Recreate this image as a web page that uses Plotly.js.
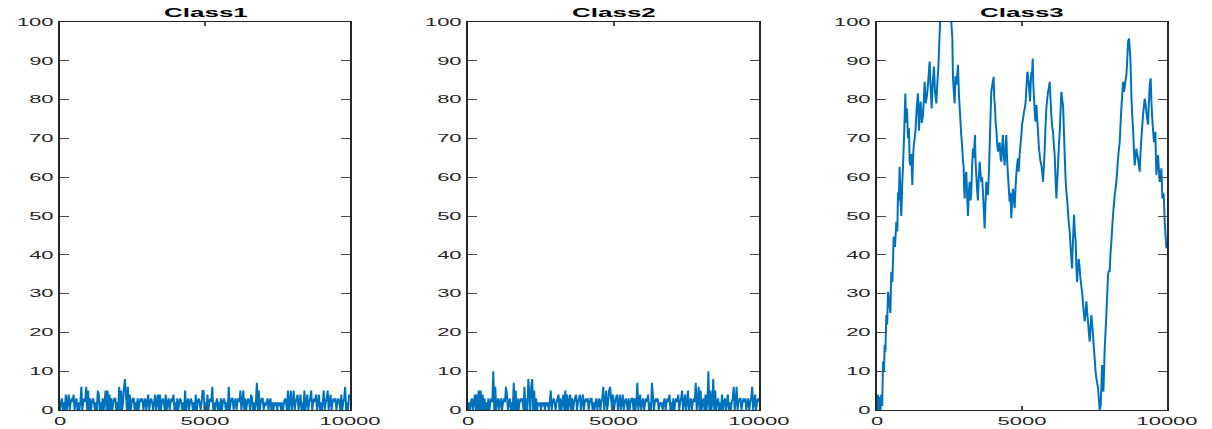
<!DOCTYPE html>
<html>
<head>
<meta charset="utf-8">
<script src="https://cdn.plot.ly/plotly-3.0.1.min.js"></script>
<style>
html,body{margin:0;padding:0;background:#fff;overflow:hidden;}
#wrap{width:1212px;height:429px;overflow:hidden;}
/* the reference figure is a 2x horizontally stretched render */
#chart{width:606px;height:429px;transform:scaleX(2);transform-origin:0 0;}
</style>
</head>
<body>
<div id="wrap"><div id="chart"></div></div>
<script>
// ---- data ----
var panelTitles = ['Class1', 'Class2', 'Class3'];
var xTickVals = [0, 5000, 10000];
var xTickText = ['0', '5000', '10000'];
var yTickVals = [0, 10, 20, 30, 40, 50, 60, 70, 80, 90, 100];
var sampleCount = 10000;

var class1 = [
  0,2,3,0,2,0,4,0,2,4,
  0,2,3,2,4,0,2,3,0,2,
  0,2,6,0,2,3,2,6,0,5,
  0,3,0,2,3,2,0,2,0,5,
  4,0,2,0,3,0,2,5,0,5,
  0,4,0,3,0,2,3,3,0,2,
  0,6,0,5,0,2,6,8,4,0,
  6,0,4,0,2,3,3,0,2,0,
  3,0,2,3,2,3,0,2,3,0,
  2,4,0,2,3,2,0,2,4,0,
  2,4,0,4,0,2,3,2,0,4,
  0,2,3,0,2,3,2,4,0,2,
  0,3,0,2,3,2,0,2,0,5,
  0,2,3,0,2,3,2,0,2,0,
  4,0,2,3,2,0,2,5,5,0,
  2,0,4,0,2,3,2,6,0,2,
  0,2,3,0,2,0,3,0,2,3,
  2,0,2,0,6,0,2,3,3,0,
  2,3,0,2,3,2,5,0,2,5,
  0,3,0,2,3,2,0,4,3,0,
  2,0,2,7,0,5,0,2,3,3,
  0,2,1,2,3,0,2,3,0,2,
  0,2,1,2,0,2,1,2,0,2,
  0,2,3,2,0,5,0,2,5,0,
  2,5,0,2,3,4,0,2,4,0,
  2,0,5,0,2,4,0,2,3,5,
  0,2,3,2,4,0,2,4,0,2,
  0,2,5,0,2,3,5,0,2,4,
  0,2,3,2,3,0,2,3,2,0,
  4,0,2,3,6,0,2,0,4,3
];

var class2 = [
  0,2,0,2,3,0,2,4,0,4,
  0,5,0,5,0,4,0,3,0,2,
  0,3,0,2,3,2,10,0,6,0,
  2,3,0,2,3,0,2,3,2,6,
  4,0,2,3,0,2,0,7,0,5,
  0,3,0,2,3,2,3,0,6,0,
  3,0,8,4,0,6,8,0,5,0,
  3,0,2,1,2,0,2,1,2,0,
  2,1,2,0,2,5,0,2,3,2,
  0,2,3,4,0,3,0,2,4,0,
  5,0,4,0,2,4,0,3,0,2,
  3,4,0,2,3,4,0,2,4,0,
  2,3,2,3,0,2,3,3,0,2,
  0,2,3,0,2,3,0,2,3,6,
  0,2,5,0,2,5,6,3,0,4,
  0,2,3,4,0,2,4,0,2,4,
  0,2,3,2,0,3,0,2,3,3,
  0,3,0,2,7,0,2,4,0,2,
  3,0,2,3,2,4,0,2,0,7,
  4,0,2,3,2,3,0,2,1,2,
  0,2,3,0,2,3,2,4,0,2,
  0,3,0,2,3,2,4,0,2,3,
  5,0,2,4,0,2,5,0,2,3,
  0,2,3,2,7,0,2,6,0,5,
  0,2,3,0,4,0,2,10,0,5,
  0,2,8,0,5,0,2,3,0,2,
  0,4,0,2,3,0,2,4,0,2,
  0,2,3,6,0,2,6,0,2,3,
  3,0,2,3,2,3,0,2,3,0,
  2,3,6,0,2,4,0,2,3,2
];

var class3Steps = [
  0,30,60,90,120,150,180,207,240,264,290,322,350,380,420,460,494,530,575,620,
  666,700,724,750,781,810,839,870,896,940,977,1000,1034,1070,1103,1125,1149,1180,1218,1240,
  1264,1300,1333,1370,1413,1448,1475,1505,1545,1586,1615,1643,1680,1723,1770,1815,1850,1884,1920,1965,
  2000,2045,2080,2114,2150,2183,2250,2400,2500,2562,2597,2620,2650,2677,2705,2735,2765,2792,2827,2850,
  2873,2905,2941,2965,2987,3000,3022,3050,3079,3110,3137,3165,3194,3225,3252,3280,3309,3340,3378,3400,
  3424,3450,3481,3510,3539,3570,3596,3625,3654,3680,3711,3740,3769,3800,3826,3861,3900,3941,3980,4021,
  4045,4067,4090,4113,4140,4171,4200,4228,4260,4286,4315,4343,4370,4401,4430,4458,4490,4516,4545,4573,
  4600,4631,4660,4688,4715,4746,4775,4803,4830,4861,4886,4920,4955,4980,5001,5035,5070,5100,5127,5160,
  5185,5210,5231,5255,5277,5300,5323,5345,5369,5390,5415,5440,5461,5480,5495,5525,5553,5580,5610,5640,
  5668,5700,5725,5755,5783,5810,5840,5870,5897,5925,5955,5985,6012,6040,6070,6100,6127,6155,6185,6215,
  6242,6270,6300,6330,6357,6385,6415,6445,6472,6500,6530,6560,6587,6615,6645,6685,6725,6760,6794,6820,
  6852,6875,6898,6925,6955,6985,7013,7045,7082,7120,7162,7190,7220,7250,7277,7305,7334,7360,7392,7420,
  7449,7478,7507,7535,7564,7592,7622,7650,7679,7714,7737,7760,7783,7806,7830,7852,7880,7909,7940,7967,
  7995,8024,8050,8082,8110,8139,8170,8197,8225,8254,8285,8312,8340,8369,8400,8426,8455,8484,8512,8541,
  8570,8599,8628,8656,8691,8715,8737,8755,8771,8800,8829,8860,8886,8915,8944,8972,9001,9030,9059,9085,
  9116,9145,9174,9200,9231,9260,9289,9318,9346,9375,9404,9438,9460,9484,9520,9553,9575,9599,9615,9634,
  9660,9691,9720,9749,9780,9806,9825,9841,9865,9887,9905,9921,9950,9979,10000
];
var class3Values = [
  0,4,0,3.5,0,4,1,12.5,10,16.8,15,24.5,22,30.5,28,25,35.6,33,44.7,42,
  48.5,46,56,54,62.7,54,50,58,62.7,72,81.6,74,77.7,70,72.6,64,63,66,58,64,
  68,70,72.6,78,81.6,72,77,79.5,74,76,80,84.6,79,81,85,89.8,83,77.7,84,88.5,
  82,79,84,88,95,101,106,108,104,100,96,85.5,82,79,86,83.8,86,89,81,78,
  75,71,67.4,64,63,58,54.5,60,61.4,55,50,56,58.8,54,56,63,67.4,65,70.9,64,
  60.6,57,54,60,64,61,58.8,60,56,52,46.8,53,58.8,57,55.4,61.4,72,82,84,85.9,
  80,78.6,74,72.6,69,66.6,68,69,65,64,68,70.9,66,63,67,70.9,64,60.6,57,53.7,
  56,49.4,54,57,55,52,57,60.6,63,64.9,61.4,66,69,71,73.5,75,76.9,78,79.5,84,
  87.2,86,84.6,82,79.5,84,87.2,86,90.6,84,80.3,77,74.3,76,78.6,75,71.7,68,65.7,64,
  63,61,58.8,63,67.4,73,77.7,80,82,83,84.6,80,76,73,71.7,68,65.7,60,54.5,59,
  63,68,71.7,77,82,80,78.6,72,65.7,60,56.3,54,51,48,46,41,36.5,44,50.3,46,
  43.4,37,33,36,39,37,34,32,29.6,26,22.8,25,28,25,22.8,20,17.6,21,24.5,22,
  19.3,16,13.3,10,8.2,7,5.6,3,0,1.3,6,11.6,8,4.7,10,15.9,20,24.5,30,34.8,
  36,35.6,40,43.4,47,50.3,53,55.4,57,58.8,62,64.9,67,69,74,77.7,81,84.6,82,83,
  85,86.3,90,94.9,95.8,93,90.6,86,81.2,76,72.6,67,63,65,67.4,66,64.9,63,61.4,66,
  70,73,76,78,80.3,79,76.9,75,73.5,79,83.8,85.5,80,76,72,69,70,71.7,66,60.6,
  63,65.7,62,58.8,60,62.3,58,54.5,56,55.4,52,48.5,45,41.7,43
];

// ---- build ----
function indexAxis(values) {
  var step = sampleCount / (values.length - 1);
  return values.map(function (_, i) { return i * step; });
}

var lineColor = '#0072BD';
var traces = [
  {x: indexAxis(class1), y: class1, xaxis: 'x', yaxis: 'y'},
  {x: indexAxis(class2), y: class2, xaxis: 'x2', yaxis: 'y2'},
  {x: class3Steps, y: class3Values, xaxis: 'x3', yaxis: 'y3'}
].map(function (t) {
  t.type = 'scatter';
  t.mode = 'lines';
  t.line = {color: lineColor, width: 1, simplify: false};
  t.hoverinfo = 'skip';
  t.showlegend = false;
  return t;
});

// native render size (stretched 2x horizontally by CSS)
var W = 606, H = 429;
var xDomains = [[30 / W, 175 / W], [234 / W, 379.5 / W], [438.5 / W, 583.5 / W]];
var yDomain = [1 - 410 / H, 1 - 22 / H];
var axisColor = '#262626';
var tickFont = {family: 'Liberation Sans, Arial, sans-serif', size: 11, color: axisColor};

var layout = {
  width: W, height: H,
  margin: {l: 0, r: 0, t: 0, b: 0},
  paper_bgcolor: '#ffffff',
  plot_bgcolor: '#ffffff',
  showlegend: false,
  annotations: []
};

for (var k = 0; k < 3; k++) {
  var sx = k === 0 ? '' : String(k + 1);
  layout['xaxis' + sx] = {
    domain: xDomains[k], anchor: 'y' + sx,
    range: [0, 10000], tickmode: 'array', tickvals: xTickVals, ticktext: xTickText,
    ticks: 'inside', ticklen: 4, tickcolor: '#4a4a4a', tickwidth: 1,
    showline: true, linecolor: axisColor, linewidth: 1, mirror: 'ticks',
    showgrid: false, zeroline: false, tickfont: tickFont, ticklabelstandoff: 1,
    automargin: false, fixedrange: true
  };
  layout['yaxis' + sx] = {
    domain: yDomain, anchor: 'x' + sx,
    range: [0, 100], tickmode: 'array', tickvals: yTickVals,
    ticks: 'inside', ticklen: 4.5, tickcolor: '#4a4a4a', tickwidth: 1,
    showline: true, linecolor: axisColor, linewidth: 1, mirror: 'ticks',
    showgrid: false, zeroline: false, tickfont: tickFont, ticklabelstandoff: 0,
    automargin: false, fixedrange: true
  };
  layout.annotations.push({
    xref: 'paper', yref: 'paper',
    x: (xDomains[k][0] + xDomains[k][1]) / 2, y: 1 - 13 / H,
    xanchor: 'center', yanchor: 'middle', showarrow: false,
    text: '<b>' + panelTitles[k] + '</b>',
    font: {family: 'Liberation Sans, Arial, sans-serif', size: 13, color: '#000'}
  });
}

Plotly.newPlot('chart', traces, layout, {staticPlot: true, displayModeBar: false});
</script>
</body>
</html>
